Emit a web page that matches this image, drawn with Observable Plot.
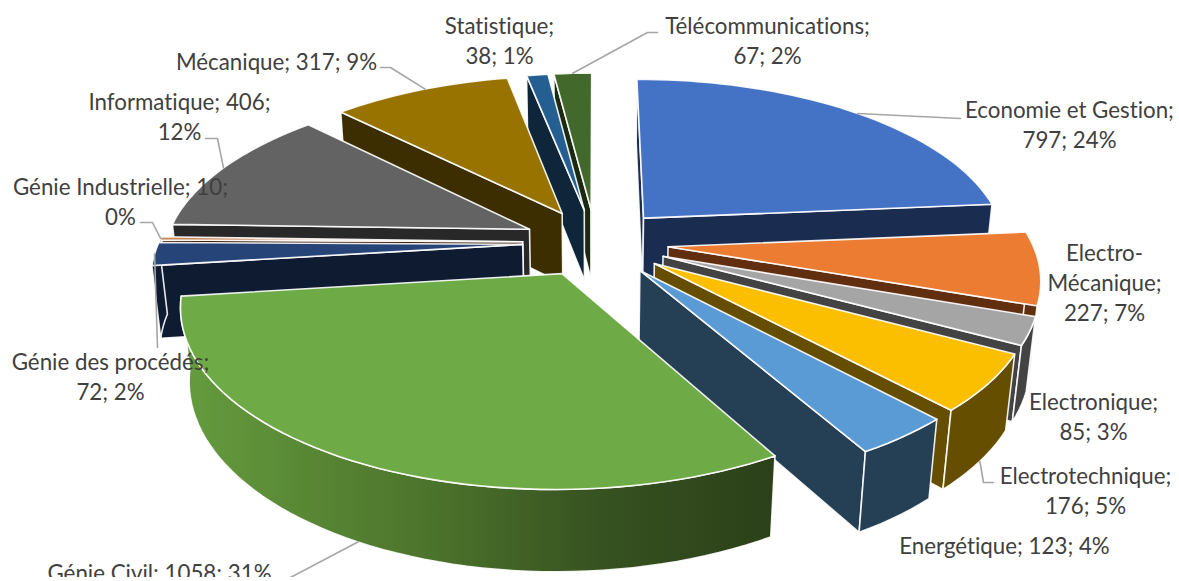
<!DOCTYPE html>
<html><head><meta charset="utf-8">
<style>html,body{margin:0;padding:0;background:#fff}svg{display:block}svg text{font-variant-ligatures:none}</style>
<script src="https://cdn.jsdelivr.net/npm/d3@7"></script>
<script src="https://cdn.jsdelivr.net/npm/@observablehq/plot@0.6"></script>
</head><body><div id="chart"></div>
<script>
// data, in pie order (clockwise from 12 o'clock)
const categories = ["Economie et Gestion","Electro-Mécanique","Electronique","Electrotechnique","Energétique","Génie Civil","Génie des procédés","Génie Industrielle","Informatique","Mécanique","Statistique","Télécommunications"];
const values = [797,227,85,176,123,1058,72,10,406,317,38,67];
const topColors = ["#4472c4","#ec7c31","#a5a5a5","#fbbf00","#5b9bd5","#6eaa46","#264478","#c9855a","#636363","#997300","#255e91","#43682b"];
const wallColors = ["#1a2c50","#612e10","#434343","#664e00","#253f55","url(#civilWall)","#0e1b31","#3f1d06","#282828","#3d2e00","#0f263a","#1b2a11"];
const labelLines = [
 ["Economie et Gestion;","797; 24%"],
 ["Electro-","Mécanique;","227; 7%"],
 ["Electronique;","85; 3%"],
 ["Electrotechnique;","176; 5%"],
 ["Energétique; 123; 4%"],
 ["Génie Civil; 1058; 31%"],
 ["Génie des procédés;","72; 2%"],
 ["Génie Industrielle; 10;","0%"],
 ["Informatique; 406;","12%"],
 ["Mécanique; 317; 9%"],
 ["Statistique;","38; 1%"],
 ["Télécommunications;","67; 2%"]
];
// layout of the annotation: label centres and leader elbows
const labelCenters = [[1069,123],[1104,281],[1093,415],[1085,489],[1004,544],[159,571],[110,375],[120,200],[179,115],[276,60],[499,39],[767,39]];
const leaderPaths = [[[960,118]],null,null,[[983,482],[993,482]],null,[[290,577]],[[157,347]],[[152,222],[140,222]],[[217,138],[205,138]],[[390,67],[380,67]],null,[[647,32],[657,32]]];
const leaderDepth = [0,0,0,1,0,1,0,0,0,0,0,0];
const drawOrder = [11,10,9,0,8,7,6,1,2,3,4,5];

// view of the exploded 3-D pie
const view = {cx:595, cy:242, R:364, Ry:169, H:73, k:0.164, m:0.02, explode:0.2};
const project = (u,v,z) => { const w = 1 - view.k*v + view.m*z; return [view.cx + view.R*u/w, view.cy + (view.Ry*v + view.H*z)/w]; };

const total = d3.sum(values);
const cum = d3.cumsum(values);
const slices = values.map((d,i)=>{
  const a0 = (i? cum[i-1]:0)/total*2*Math.PI, a1 = cum[i]/total*2*Math.PI, mid=(a0+a1)/2;
  const ou = view.explode*Math.sin(mid), ov = -view.explode*Math.cos(mid);
  const n = Math.max(2, Math.ceil((a1-a0)/(Math.PI/90)));
  const ts = d3.range(n+1).map(j=>a0+(a1-a0)*j/n);
  const arc = ts.map(t=>[ou+Math.sin(t), ov-Math.cos(t)]);
  const frontArc = ts.filter(t=>-Math.cos(t) >= -0.05).map(t=>[ou+Math.sin(t), ov-Math.cos(t)]);
  return {i,a0,a1,mid,ou,ov,arc,frontArc};
});
const rows = [];
const addPoly = (id,color,pts)=>{ [...pts,pts[0]].forEach(p=>rows.push({id,color,x:p[0],y:p[1]})); };
const camV = 1/view.k;
for (const o of drawOrder){
  const s = slices[o];
  const ctr0=project(s.ou,s.ov,0), ctr1=project(s.ou,s.ov,1);
  const a=s.arc[0], b=s.arc[s.arc.length-1];
  const faceColor = wallColors[o].startsWith("url") ? "#2c421b" : wallColors[o];
  // cut faces that turn towards the viewer
  const f0 = (-s.ou)*(-Math.cos(s.a0)) + (camV-s.ov)*(-Math.sin(s.a0));
  const f1 = (-s.ou)*(Math.cos(s.a1)) + (camV-s.ov)*(Math.sin(s.a1));
  if (f0>0) addPoly(`${o}-f0`,faceColor,[ctr0,project(a[0],a[1],0),project(a[0],a[1],1),ctr1]);
  if (f1>0) addPoly(`${o}-f1`,faceColor,[ctr0,project(b[0],b[1],0),project(b[0],b[1],1),ctr1]);
  if (s.frontArc.length>1) addPoly(`${o}-w`,wallColors[o],[...s.frontArc.map(p=>project(p[0],p[1],0)),...s.frontArc.slice().reverse().map(p=>project(p[0],p[1],1))]);
  addPoly(`${o}-t`,topColors[o],[ctr0,...s.arc.map(p=>project(p[0],p[1],0))]);
}
const labels = labelLines.map((l,i)=>({text:l.join("\n"),x:labelCenters[i][0],y:labelCenters[i][1]}));
const leaders = [];
leaderPaths.forEach((path,i)=>{
  if(!path) return;
  const s=slices[i], am=s.arc[Math.floor(s.arc.length/2)];
  const start=project(am[0],am[1],leaderDepth[i]);
  [start,...path].forEach(p=>leaders.push({id:i,x:p[0],y:p[1]}));
});

const svg = Plot.plot({
  width:1179, height:577, margin:0,
  x:{domain:[0,1179],range:[0,1179],axis:null},
  y:{domain:[0,577],range:[0,577],axis:null},
  color:{type:"identity"},
  marks:[
    Plot.line(rows,{x:"x",y:"y",z:"id",fill:"color",stroke:"#fff",strokeWidth:1.6,strokeOpacity:0.9,curve:"linear"}),
    Plot.line(leaders,{x:"x",y:"y",z:"id",stroke:"#a6a6a6",strokeWidth:1.6,curve:"linear"}),
    Plot.text(labels,{x:"x",y:"y",text:"text",fontSize:22.3,lineHeight:1.33,fill:"#404040",fontFamily:"Lato",textAnchor:"middle"})
  ]
});
const grad = d3.select(svg).insert("defs",":first-child").append("linearGradient")
  .attr("id","civilWall").attr("gradientUnits","userSpaceOnUse")
  .attr("x1",185).attr("x2",775).attr("y1",0).attr("y2",0);
[[0,"#659b3e"],[0.4,"#4d752c"],[0.7,"#375221"],[1,"#2b4019"]].forEach(([o,c])=>grad.append("stop").attr("offset",o).attr("stop-color",c));
document.getElementById("chart").appendChild(svg);
</script></body></html>
